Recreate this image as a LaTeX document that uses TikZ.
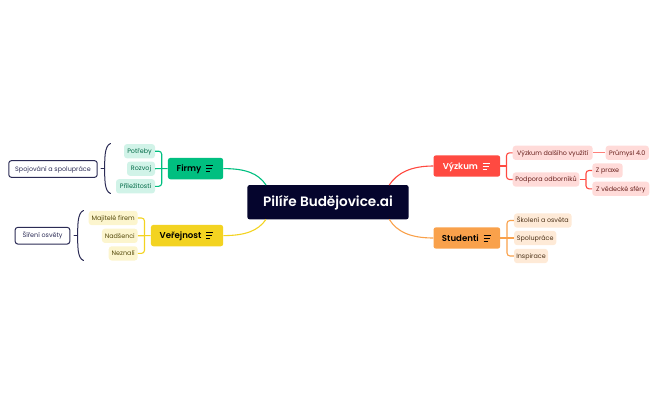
\documentclass[tikz,border=0pt]{standalone}
\usepackage{fontspec}
\setmainfont{Poppins}[BoldFont={Poppins SemiBold}]
\usepackage{tikz}

\definecolor{rootfill}{HTML}{05052D}
\definecolor{firmyc}{HTML}{00BF80}
\definecolor{verejc}{HTML}{F3D321}
\definecolor{vyzkc}{HTML}{FF4A41}
\definecolor{studc}{HTML}{F9A14B}
\definecolor{outline}{HTML}{2B2B55}

\tikzset{
	topic/.style={rounded corners=2.5pt, minimum height=21.4pt, inner sep=0pt, text height=6.4pt, text depth=0.4pt, font=\fontsize{8.6}{11}\selectfont\bfseries, anchor=west},
	sub/.style={rounded corners=3pt, minimum height=14.3pt, inner sep=0pt, text height=5pt, text depth=0.6pt, font=\fontsize{6.4}{8}\selectfont},
	note/.style={draw=outline, line width=1pt, rounded corners=2.5pt, minimum height=16.6pt, inner sep=0pt, text height=5pt, text depth=0.6pt, text=outline, font=\fontsize{6.4}{8}\selectfont, anchor=west},
	link/.style={line width=1.1pt, rounded corners=3pt},
	curl/.style={line width=1pt, outline, line cap=round}
}

\newcommand{\menuicon}[3]{
	\draw[#3, line width=0.8pt] (#1,#2-3) -- ++(7.4,0);
	\draw[#3, line width=0.8pt] (#1,#2) -- ++(6.2,0);
	\draw[#3, line width=0.8pt] (#1,#2+3) -- ++(4.4,0);
}

\begin{document}
\begin{tikzpicture}[x=1pt, y=-1pt]
\useasboundingbox (0,0) rectangle (658,407);

\node[fill=rootfill, text=white, rounded corners=2.5pt, minimum width=161.4pt, minimum height=34.4pt, inner sep=0pt, text height=10pt, text depth=0.6pt, font=\fontsize{13.6}{16}\selectfont\bfseries] (root) at (328,202.2) {Pilíře Budějovice.ai};

% main topics
\node[topic, fill=firmyc, minimum width=55.3pt, text=black] (firmy) at (167.7,168.6) {\hspace*{-13pt}Firmy};
\node[topic, fill=verejc, minimum width=72.3pt, text=black] (verejnost) at (150.7,235.6) {\hspace*{-13pt}Veřejnost};
\node[topic, fill=vyzkc, minimum width=66.7pt, text=white] (vyzkum) at (433.3,166) {\hspace*{-13pt}Výzkum};
\node[topic, fill=studc, minimum width=66.7pt, text=black] (studenti) at (433.3,238) {\hspace*{-13pt}Studenti};

\menuicon{206}{168.6}{black}
\menuicon{206}{235.6}{black}
\menuicon{482.7}{166}{white}
\menuicon{483.5}{238}{black}

% left side
\node[sub, fill=firmyc!18, text=firmyc!55!black, minimum width=31pt] (potreby) at (139.5,151.2) {Potřeby};
\node[sub, fill=firmyc!18, text=firmyc!55!black, minimum width=28pt] (rozvoj) at (141,168.7) {Rozvoj};
\node[sub, fill=firmyc!18, text=firmyc!55!black, minimum width=39pt] (prilezitosti) at (135.5,186.3) {Příležitosti};

\node[sub, fill=verejc!22, text=verejc!35!black, minimum width=49pt] (majitele) at (113.2,218) {Majitelé firem};
\node[sub, fill=verejc!22, text=verejc!35!black, minimum width=35.7pt] (nadsenci) at (119.8,235.8) {Nadšenci};
\node[sub, fill=verejc!22, text=verejc!35!black, minimum width=29pt] (neznali) at (123.2,253.4) {Neznalí};

\node[note, minimum width=88.4pt] (spojovani) at (8.3,169) {Spojování a spolupráce};
\node[note, minimum width=54.6pt] (sireni) at (14.7,235.7) {Šíření osvěty};

% right side
\node[sub, fill=vyzkc!20, text=vyzkc!40!black, minimum width=80pt] (dalsi) at (552.7,152.8) {Výzkum dalšího využití};
\node[sub, fill=vyzkc!20, text=vyzkc!40!black, minimum width=43.3pt] (prumysl) at (627.3,152.8) {Průmysl 4.0};
\node[sub, fill=vyzkc!20, text=vyzkc!40!black, minimum width=66.6pt] (podpora) at (546,179.5) {Podpora odborníků};
\node[sub, fill=vyzkc!20, text=vyzkc!40!black, minimum width=30.4pt] (praxe) at (607.5,170.5) {Z praxe};
\node[sub, fill=vyzkc!20, text=vyzkc!40!black, minimum width=57pt] (sfery) at (620.8,188.8) {Z vědecké sféry};

\node[sub, fill=studc!22, text=studc!30!black, minimum width=57.7pt] (skoleni) at (542.8,220.5) {Školení a osvěta};
\node[sub, fill=studc!22, text=studc!30!black, minimum width=42.3pt] (spoluprace) at (535.2,238) {Spolupráce};
\node[sub, fill=studc!22, text=studc!30!black, minimum width=34pt] (inspirace) at (531,256) {Inspirace};

\coordinate (firmyend) at (266,185);
\coordinate (verejend) at (266,219.4);
\coordinate (vyzkend) at (389.3,185);
\coordinate (studend) at (389.3,219.4);

\draw[firmyc, line width=1.1pt] (firmy.east) .. controls (245,168.6) and (258,173) .. (firmyend);
\draw[verejc, line width=1.1pt] (verejnost.east) .. controls (245,235.6) and (258,231) .. (verejend);
\draw[vyzkc, line width=1.1pt] (vyzkum.west) .. controls (411,166) and (397,173) .. (vyzkend);
\draw[studc, line width=1.1pt] (studenti.west) .. controls (411,238) and (397,232) .. (studend);

\coordinate (firmyjoin) at (161.7,168.6);
\coordinate (verejjoin) at (144.5,235.6);
\coordinate (vyzkjoin) at (506.5,166);
\coordinate (studjoin) at (507,238);
\coordinate (podporajoin) at (586,179.5);

\draw[link, firmyc] (firmy.west) -- (rozvoj.east);
\draw[link, firmyc] (potreby.east) -| (firmyjoin);
\draw[link, firmyc] (prilezitosti.east) -| (firmyjoin);

\draw[link, verejc] (verejnost.west) -- (nadsenci.east);
\draw[link, verejc] (majitele.east) -| (verejjoin);
\draw[link, verejc] (neznali.east) -| (verejjoin);

\draw[link, vyzkc] (vyzkum.east) -- (vyzkjoin);
\draw[link, vyzkc] (dalsi.west) -| (vyzkjoin);
\draw[link, vyzkc] (podpora.west) -| (vyzkjoin);
\draw[link, vyzkc!70] (dalsi.east) -- (prumysl.west);
\draw[link, vyzkc] (podpora.east) -- (podporajoin);
\draw[link, vyzkc] (praxe.west) -| (podporajoin);
\draw[link, vyzkc] (sfery.west) -| (podporajoin);

\draw[link, studc] (studenti.east) -- (spoluprace.west);
\draw[link, studc] (skoleni.west) -| (studjoin);
\draw[link, studc] (inspirace.west) -| (studjoin);

% curly brackets
\coordinate (firmytip) at (101,168.6);
\coordinate (verejtip) at (74,235.6);
\draw[curl] (110.5,143.5) .. controls (104,146) and (105,160) .. (104.5,168.6) .. controls (105,178) and (104,191) .. (110.5,193.5);
\draw[curl] (firmytip) -- (104.5,168.6);
\draw[curl] (83.5,210.5) .. controls (77,213) and (78,227) .. (77.5,235.6) .. controls (78,245) and (77,258) .. (83.5,260.5);
\draw[curl] (verejtip) -- (77.5,235.6);
\end{tikzpicture}
\end{document}
